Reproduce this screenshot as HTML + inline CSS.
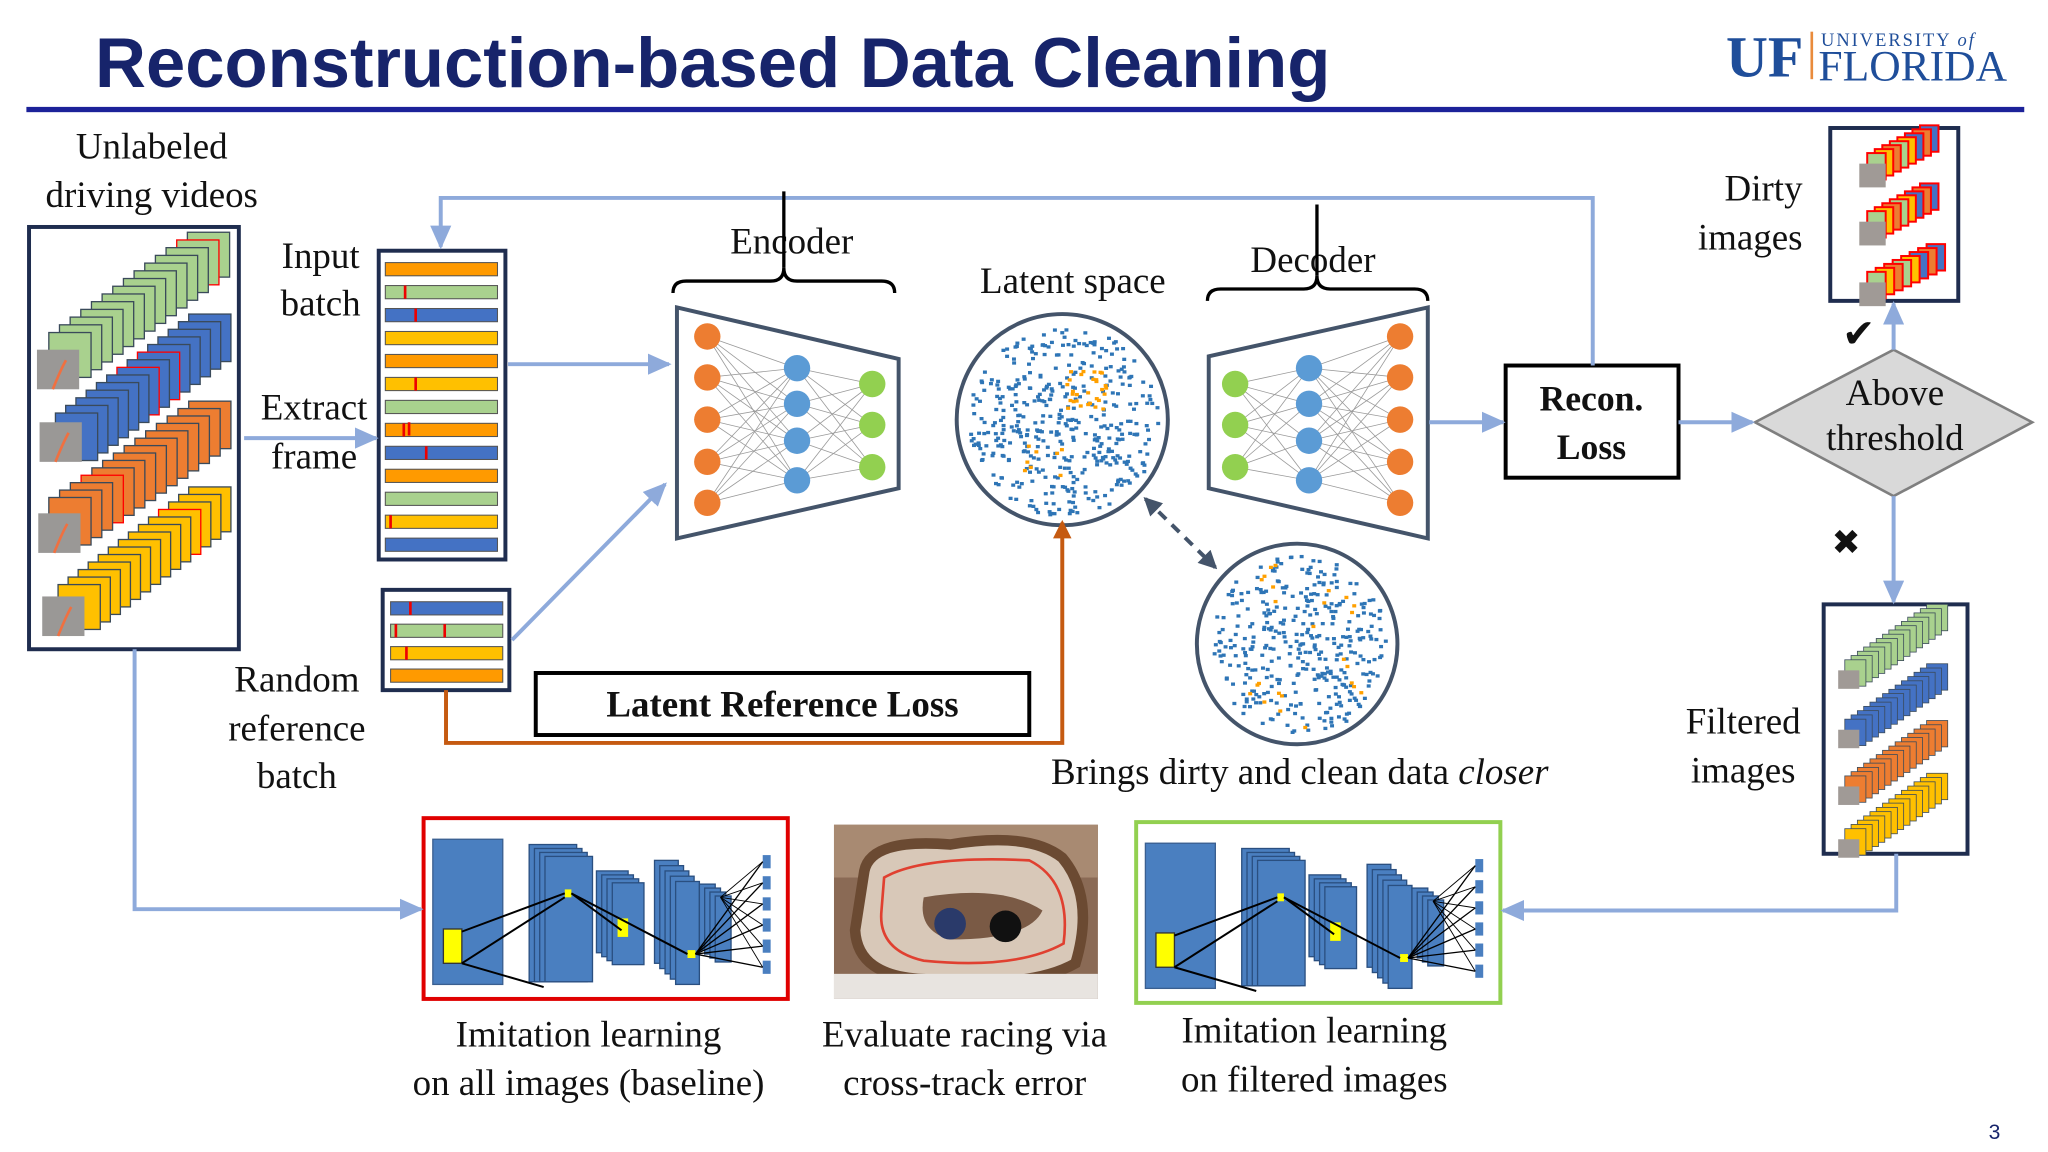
<!DOCTYPE html>
<html><head><meta charset="utf-8"><style>
html,body{margin:0;padding:0;background:#fff;}
svg{display:block;}
text{font-family:"Liberation Serif",serif;fill:#111;}
</style></head><body>
<svg id="g" width="2048" height="1152" viewBox="0 0 1552 873" preserveAspectRatio="none" xmlns="http://www.w3.org/2000/svg">
<defs>
<marker id="abL" markerWidth="18" markerHeight="16" refX="16" refY="8" orient="auto" markerUnits="userSpaceOnUse"><path d="M0,0 L18,8 L0,16 z" fill="#8eaadb"/></marker>
<marker id="ao" markerWidth="14" markerHeight="14" refX="12" refY="7" orient="auto" markerUnits="userSpaceOnUse"><path d="M0,0 L14,7 L0,14 z" fill="#c55a11"/></marker>
<marker id="ad" markerWidth="14" markerHeight="14" refX="12" refY="7" orient="auto-start-reverse" markerUnits="userSpaceOnUse"><path d="M0,0 L14,7 L0,14 z" fill="#44546a"/></marker>
</defs>
<!-- title -->
<text x="72" y="66" font-size="53.5" font-weight="bold" style="fill:#17246b;font-family:'Liberation Sans',sans-serif">Reconstruction-based Data Cleaning</text>
<rect x="20" y="81" width="1514" height="4" fill="#1c2299"/>
<text x="1308" y="58" font-size="44" font-weight="bold" style="font-family:'Liberation Serif',serif;fill:#1f4e9a">UF</text>
<rect x="1372" y="24" width="2" height="36" fill="#e98b3c"/>
<text x="1380" y="35" font-size="14" letter-spacing="1.5" style="fill:#1f4e9a">UNIVERSITY <tspan font-style="italic">of</tspan></text>
<text x="1378" y="61" font-size="33" style="fill:#1f4e9a">FLORIDA</text>

<!-- bottom boxes (behind dyn content) -->
<rect x="321" y="620" width="276" height="137" fill="#fff" stroke="#e00000" stroke-width="3"/>
<rect x="861" y="623" width="276" height="137" fill="#fff" stroke="#92d050" stroke-width="3"/>
<rect x="632" y="625" width="200" height="132" fill="#8a6a55"/>
<rect x="632" y="625" width="200" height="40" fill="#a88a72"/>
<path d="M655,660 Q660,635 720,640 Q780,630 805,650 Q830,680 815,730 Q780,750 700,742 Q650,740 648,705 Z" fill="#d8c8b8" stroke="#6b4a32" stroke-width="8"/>
<path d="M670,665 Q700,648 780,652 Q812,668 806,715 Q770,735 700,728 Q665,720 668,690 Z" fill="none" stroke="#e04030" stroke-width="2"/>
<path d="M700,680 Q760,670 790,690 Q780,712 720,712 Q695,705 700,680 Z" fill="#7a5a45"/>
<circle cx="720" cy="700" r="12" fill="#2a3a6a"/><circle cx="762" cy="702" r="12" fill="#111"/>
<rect x="632" y="738" width="200" height="19" fill="#e8e4e0"/>

<g id="dyn"></g>

<!-- labels -->
<g font-size="28" text-anchor="middle">
<text x="115" y="120">Unlabeled</text><text x="115" y="157">driving videos</text>
<text x="243" y="203">Input</text><text x="243" y="239">batch</text>
<text x="238" y="318">Extract</text><text x="238" y="355">frame</text>
<text x="225" y="524">Random</text><text x="225" y="561">reference</text><text x="225" y="597">batch</text>
<text x="600" y="192">Encoder</text>
<text x="995" y="206">Decoder</text>
<text x="813" y="222">Latent space</text>
<text x="1366" y="152" text-anchor="end">Dirty</text><text x="1366" y="189" text-anchor="end">images</text>
<text x="1321" y="556">Filtered</text><text x="1321" y="593">images</text>
<text x="985" y="594">Brings dirty and clean data <tspan font-style="italic">closer</tspan></text>
<text x="446" y="793">Imitation learning</text><text x="446" y="830">on all images (baseline)</text>
<text x="731" y="793">Evaluate racing via</text><text x="731" y="830">cross-track error</text>
<text x="996" y="790">Imitation learning</text><text x="996" y="827">on filtered images</text>
</g>
<text x="1507" y="863" font-size="16" style="font-family:'Liberation Sans',sans-serif;fill:#17246b">3</text>

<!-- recon loss -->
<rect x="1141" y="277" width="131" height="85" fill="#fff" stroke="#000" stroke-width="3"/>
<text x="1206" y="311" font-size="27" font-weight="bold" text-anchor="middle">Recon.</text>
<text x="1206" y="348" font-size="27" font-weight="bold" text-anchor="middle">Loss</text>
<!-- diamond -->
<polygon points="1330,320 1435,265 1540,320 1435,376" fill="#d9d9d9" stroke="#7f7f7f" stroke-width="2"/>
<text x="1436" y="307" font-size="28" text-anchor="middle">Above</text><text x="1436" y="341" font-size="28" text-anchor="middle">threshold</text>
<text x="1396" y="263" font-size="30">✔</text>
<text x="1388" y="420" font-size="26">✖</text>

<!-- latent reference loss -->
<polyline points="338,523 338,563 805,563 805,396" fill="none" stroke="#c55a11" stroke-width="3" marker-end="url(#ao)"/>
<rect x="406" y="510" width="374" height="47" fill="#fff" stroke="#000" stroke-width="3"/>
<text x="593" y="543" font-size="28" font-weight="bold" text-anchor="middle">Latent Reference Loss</text>

<!-- blue arrows -->
<g fill="none" stroke="#8eaadb" stroke-width="3">
<line x1="185" y1="332" x2="285" y2="332" marker-end="url(#abL)"/>
<line x1="385" y1="276" x2="507" y2="276" marker-end="url(#abL)"/>
<line x1="388" y1="485" x2="504" y2="367" marker-end="url(#abL)"/>
<polyline points="1207,277 1207,150 334,150 334,187" marker-end="url(#abL)"/>
<polyline points="102,492 102,689 319,689" marker-end="url(#abL)"/>
<polyline points="1437,647 1437,690 1139,690" marker-end="url(#abL)"/>
<line x1="1272" y1="320" x2="1328" y2="320" marker-end="url(#abL)"/>
<line x1="1083" y1="320" x2="1139" y2="320" marker-end="url(#abL)"/>
<line x1="1435" y1="265" x2="1435" y2="230" marker-end="url(#abL)"/>
<line x1="1435" y1="376" x2="1435" y2="456" marker-end="url(#abL)"/>
</g>
<line x1="868" y1="378" x2="921" y2="430" stroke="#44546a" stroke-width="3" stroke-dasharray="8,6" marker-start="url(#ad)" marker-end="url(#ad)"/>

<!-- braces -->
<g fill="none" stroke="#000" stroke-width="2.5">
<path d="M510,222 Q510,213 520,213 L584,213 Q594,213 594,203 Q594,213 604,213 L668,213 Q678,213 678,222"/>
<line x1="594" y1="145" x2="594" y2="203"/>
<path d="M915,228 Q915,219 925,219 L988,219 Q998,219 998,209 Q998,219 1008,219 L1072,219 Q1082,219 1082,228"/>
<line x1="998" y1="155" x2="998" y2="209"/>
</g>
</svg>
<script>
const NS="http://www.w3.org/2000/svg",g=document.getElementById('dyn');
function el(t,a){const e=document.createElementNS(NS,t);for(const k in a)e.setAttribute(k,a[k]);g.appendChild(e);return e;}
const O="#ff9a00",Y="#ffc000",G="#a9d18e",B="#4472c4",OR="#ed7d31";
el('rect',{x:22,y:172,width:159,height:320,fill:'#fff',stroke:'#1f2d4f','stroke-width':3});
function stack(x0,y0,x1,y1,n,w,h,col,redIdx,sw){for(let i=n-1;i>=0;i--){const t=i/(n-1);const x=x0+(x1-x0)*t,y=y0+(y1-y0)*t;el('rect',{x:x,y:y,width:w,height:h,fill:col,stroke:redIdx.includes(i)?'#f00':'#3a4a5a','stroke-width':sw||1});}}
stack(37,252,142,176,14,32,34,G,[12]);
stack(42,313,143,238,14,32,36,B,[6,8]);
stack(37,377,143,304,14,32,36,OR,[3]);
stack(44,443,143,369,14,32,34,Y,[10]);
[[28,265],[30,320],[29,389],[32,452]].forEach(p=>{el('rect',{x:p[0],y:p[1],width:32,height:30,fill:'#9a9896'});el('path',{d:`M${p[0]+12},${p[1]+30} Q${p[0]+18},${p[1]+15} ${p[0]+22},${p[1]+8}`,stroke:'#f07040','stroke-width':2,fill:'none'});});
el('rect',{x:287,y:190,width:96,height:234,fill:'#fff',stroke:'#1f2d4f','stroke-width':3});
const cols=[O,G,B,Y,O,Y,G,O,B,O,G,Y,B],ticks=[0,306,314,0,0,314,0,305,322,0,0,295,0];
cols.forEach((c,i)=>{const y=199+i*17.4;el('rect',{x:292,y:y,width:85,height:10,fill:c,stroke:'#555','stroke-width':0.8});if(ticks[i])el('rect',{x:ticks[i],y:y,width:2,height:10,fill:'#e00'});});
el('rect',{x:309,y:320,width:2,height:10,fill:'#e00'});
el('rect',{x:290,y:447,width:96,height:76,fill:'#fff',stroke:'#1f2d4f','stroke-width':3});
[B,G,Y,O].forEach((c,i)=>{const y=456+i*17;el('rect',{x:296,y:y,width:85,height:10,fill:c,stroke:'#555','stroke-width':0.8});});
[[310,456],[299,473],[336,473],[307,490]].forEach(p=>el('rect',{x:p[0],y:p[1],width:2,height:10,fill:'#e00'}));
function net(pts,L,M,R,xl,xm,xr){el('polygon',{points:pts,fill:'#fff',stroke:'#44546a','stroke-width':3});
const a=L.map(y=>[xl,y]),b=M.map(y=>[xm,y]),c=R.map(y=>[xr,y]);
a.forEach(p=>b.forEach(q=>el('line',{x1:p[0],y1:p[1],x2:q[0],y2:q[1],stroke:'#999','stroke-width':0.6})));
b.forEach(p=>c.forEach(q=>el('line',{x1:p[0],y1:p[1],x2:q[0],y2:q[1],stroke:'#999','stroke-width':0.6})));
return [a,b,c];}
let r=net("513,233 681,272 681,370 513,408",[255,286,318,350,381],[279,306,334,364],[291,322,354],536,604,661);
r[0].forEach(p=>el('circle',{cx:p[0],cy:p[1],r:10,fill:OR}));r[1].forEach(p=>el('circle',{cx:p[0],cy:p[1],r:10,fill:'#5b9bd5'}));r[2].forEach(p=>el('circle',{cx:p[0],cy:p[1],r:10,fill:'#92d050'}));
r=net("916,270 1082,233 1082,408 916,370",[291,322,354],[279,306,334,364],[255,286,318,350,381],936,992,1061);
r[0].forEach(p=>el('circle',{cx:p[0],cy:p[1],r:10,fill:'#92d050'}));r[1].forEach(p=>el('circle',{cx:p[0],cy:p[1],r:10,fill:'#5b9bd5'}));r[2].forEach(p=>el('circle',{cx:p[0],cy:p[1],r:10,fill:OR}));
let seed=7;function rnd(){seed=(seed*9301+49297)%233280;return seed/233280;}
function lat(cx,cy,R,n,oc){el('circle',{cx:cx,cy:cy,r:R,fill:'#fff',stroke:'#44546a','stroke-width':3});
for(let i=0;i<n;i++){const a=rnd()*6.283,d=Math.sqrt(rnd())*(R-8);el('rect',{x:cx+Math.cos(a)*d,y:cy+Math.sin(a)*d,width:3,height:2.5,fill:'#2e75b6'});}
oc.forEach(o=>{for(let i=0;i<o[2];i++){el('rect',{x:o[0]+(rnd()-0.5)*o[3],y:o[1]+(rnd()-0.5)*o[3],width:3,height:2.5,fill:'#ffa000'});}});}
lat(805,318,80,420,[[822,295,30,30],[790,350,8,30]]);
lat(983,488,76,360,[[960,440,6,30],[1010,455,6,40],[970,540,8,50],[1030,510,5,30]]);
el('rect',{x:1387,y:97,width:97,height:131,fill:'#fff',stroke:'#1f2d4f','stroke-width':3});
[[1415,126,1455,105],[1415,170,1455,149],[1415,216,1460,195]].forEach(s=>{const cs=[G,Y,OR,G,Y,B,OR,B];for(let i=7;i>=0;i--){const t=i/7;el('rect',{x:s[0]+(s[2]-s[0])*t,y:s[1]+(s[3]-s[1])*t-10,width:14,height:20,fill:cs[i],stroke:'#f00','stroke-width':1.5});}el('rect',{x:s[0]-6,y:s[1]-2,width:20,height:18,fill:'#a09a96'});});
el('rect',{x:1382,y:458,width:109,height:189,fill:'#fff',stroke:'#1f2d4f','stroke-width':3});
[[1398,512,1460,470,G],[1398,557,1460,515,B],[1398,600,1460,558,OR],[1398,640,1460,598,Y]].forEach(s=>{for(let i=13;i>=0;i--){const t=i/13;el('rect',{x:s[0]+(s[2]-s[0])*t,y:s[1]+(s[3]-s[1])*t-12,width:16,height:20,fill:s[4],stroke:'#3a4a5a','stroke-width':0.6});}el('rect',{x:s[0]-5,y:s[1]-4,width:16,height:14,fill:'#a09a96'});});
function cnn(ox,oy){const B2="#4a7fc0";
el('rect',{x:ox+7,y:oy+16,width:53,height:110,fill:B2,stroke:'#3a5f90','stroke-width':1});
for(let i=0;i<4;i++)el('rect',{x:ox+80+i*4,y:oy+20+i*3,width:36,height:104-i*3,fill:B2,stroke:'#2a4f80','stroke-width':1});
for(let i=0;i<4;i++)el('rect',{x:ox+131+i*4,y:oy+40+i*3,width:24,height:62,fill:B2,stroke:'#2a4f80','stroke-width':1});
for(let i=0;i<5;i++)el('rect',{x:ox+175+i*4,y:oy+32+i*4,width:18,height:78,fill:B2,stroke:'#2a4f80','stroke-width':1});
for(let i=0;i<4;i++)el('rect',{x:ox+209+i*4,y:oy+50+i*3,width:12,height:50,fill:B2,stroke:'#2a4f80','stroke-width':1});
for(let i=0;i<6;i++)el('rect',{x:ox+257,y:oy+28+i*16,width:6,height:10,fill:B2});
el('rect',{x:ox+15,y:oy+84,width:14,height:26,fill:'#ffff00',stroke:'#333'});
el('rect',{x:ox+107,y:oy+54,width:5,height:6,fill:'#ffff00'});el('rect',{x:ox+147,y:oy+76,width:8,height:14,fill:'#ffff00'});el('rect',{x:ox+200,y:oy+100,width:6,height:6,fill:'#ffff00'});
[[ox+29,oy+86,ox+107,oy+57],[ox+29,oy+110,ox+107,oy+60],[ox+29,oy+110,ox+91,oy+128],[ox+112,oy+57,ox+200,oy+103],[ox+112,oy+57,ox+150,oy+85]].forEach(l=>el('line',{x1:l[0],y1:l[1],x2:l[2],y2:l[3],stroke:'#000','stroke-width':1.5}));
for(let i=0;i<6;i++){el('line',{x1:ox+206,y1:oy+103,x2:ox+257,y2:oy+33+i*16,stroke:'#000','stroke-width':1});el('line',{x1:ox+225,y1:oy+60,x2:ox+257,y2:oy+33+i*16,stroke:'#000','stroke-width':0.7});}}
cnn(321,620);cnn(861,623);
</script>
</body></html>
